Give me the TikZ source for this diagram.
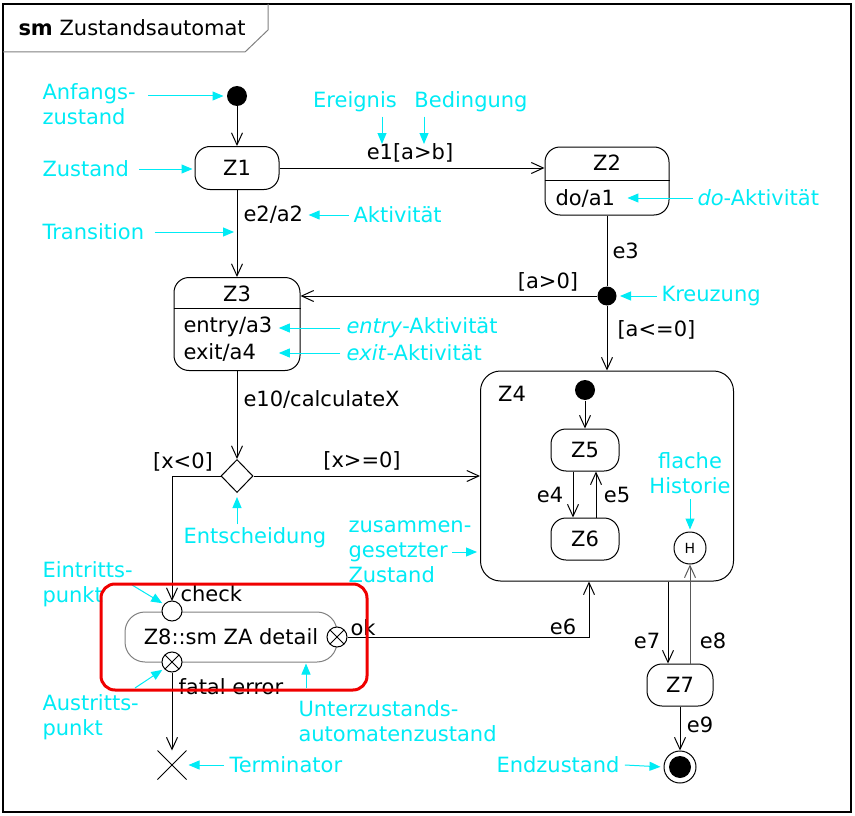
\documentclass[tikz,border=0pt]{standalone}
\usepackage{fontspec}
\setmainfont{DejaVu Sans}
\usetikzlibrary{arrows.meta, shapes.geometric, shapes.misc}

\begin{document}
\begin{tikzpicture}[x=1pt, y=-1pt, line width=1pt,
	every node/.style={font=\fontsize{21}{25}\selectfont},
	state/.style={draw, rounded corners=15pt, inner sep=0pt},
	trans/.style={-{Straight Barb[length=12pt,width=11pt]}},
	note/.style={draw=anncol, -{Triangle[length=11pt,width=9pt]}},
	notetext/.style={text=anncol, inner sep=0pt, align=left, anchor=west},
	lbl/.style={inner sep=0pt},
	expoint/.style={circle, draw, fill=white, minimum size=20pt, inner sep=0pt,
		path picture={\draw (path picture bounding box.north west) -- (path picture bounding box.south east)
			(path picture bounding box.south west) -- (path picture bounding box.north east);}}]
	\definecolor{anncol}{RGB}{0,235,245}
	\definecolor{redbox}{RGB}{240,0,0}
	\useasboundingbox (0,0) rectangle (855,816);
	% frame and title tab
	\draw[line width=1.2pt] (3,4) rectangle (851,812);
	\draw[gray] (3,52) -- (245,52) -- (268,30) -- (268,4);
	\node[anchor=west, inner sep=0pt] (title) at (18,28) {\textbf{sm} Zustandsautomat};
	% states
	\node[circle, fill, minimum size=20pt, inner sep=0pt] (init) at (237,96) {};
	\node[state, minimum width=84pt, minimum height=43pt] (z1) at (237,168) {Z1};
	\node[state, minimum width=124pt, minimum height=68pt] (z2) at (607,181) {};
	\node[lbl] (z2name) at (607,163) {Z2};
	\node[lbl, anchor=west] (z2do) at (555,198) {do/a1};
	\draw (z2.west |- 0,180) -- (z2.east |- 0,180);
	\node[state, minimum width=126pt, minimum height=93pt] (z3) at (237,324) {};
	\node[lbl] (z3name) at (237,294) {Z3};
	\node[lbl, anchor=west] (z3entry) at (183,327) {entry/a3};
	\node[lbl, anchor=west] (z3exit) at (183,352) {exit/a4};
	\draw (z3.west |- 0,308) -- (z3.east |- 0,308);
	\node[circle, fill, minimum size=19pt, inner sep=0pt] (kreuz) at (607,296) {};
	\node[diamond, draw, minimum width=32pt, minimum height=33pt, inner sep=0pt] (dec) at (237,476) {};
	\node[state, rounded corners=20pt, minimum width=253pt, minimum height=210pt] (z4) at (607,476) {};
	\node[lbl] (z4name) at (512,394) {Z4};
	\node[circle, fill, minimum size=20pt, inner sep=0pt] (z4init) at (585,390) {};
	\node[state, minimum width=68pt, minimum height=42pt] (z5) at (585,450) {Z5};
	\node[state, minimum width=68pt, minimum height=42pt] (z6) at (585,539) {Z6};
	\node[circle, draw, minimum size=32pt, inner sep=0pt, font=\fontsize{14}{16}\selectfont] (hist) at (690,548) {H};
	\node[state, minimum width=66pt, minimum height=42pt] (z7) at (680,685) {Z7};
	\node[circle, draw, fill=white, minimum size=32pt, inner sep=0pt,
		path picture={\fill[black] (path picture bounding box.center) circle (11pt);}] (final) at (680,767) {};
	\node[cross out, draw, minimum size=28pt, inner sep=0pt] (term) at (172,765) {};
	% transitions
	\draw[trans] (init) -- (z1);
	\draw[trans] (z1.east) -- (z1.east -| z2.west);
	\draw[trans] (z1) -- (z3);
	\draw (z2) -- (kreuz);
	\draw[trans] (kreuz) -- (kreuz -| z3.east);
	\draw[trans] (kreuz) -- (kreuz |- z4.north);
	\draw[trans] (z3) -- (dec);
	\draw[trans] (dec.east) -- (dec.east -| z4.west);
	\draw[trans] (z4init) -- (z5);
	\draw[trans] ([xshift=-12pt]z5.south) -- ([xshift=-12pt]z6.north);
	\draw[trans] ([xshift=11pt]z6.north) -- ([xshift=11pt]z5.south);
	\draw[trans] ([xshift=-66pt]z4.south east) -- ([xshift=-12pt]z7.north);
	\draw[trans, gray!70!black] ([xshift=10pt]z7.north) -- (hist);
	\draw[trans] (z7) -- (final);
	% submachine state
	\node[draw=gray, rounded corners=20pt, minimum width=212pt, minimum height=50pt, inner sep=0pt] (z8) at (231,637) {Z8::sm ZA detail};
	\draw[trans] (dec.west) -| (172,601);
	\node[circle, draw, fill=white, minimum size=20pt, inner sep=0pt] (entry) at (172,611) {};
	\node[expoint] (errpt) at (172,662) {};
	\node[expoint] (okpt) at (337,637) {};
	\draw[trans] (okpt.east) -| ([xshift=-18pt]z4.south);
	\draw[trans] (errpt) -- (term);
	% transition labels
	\node[lbl] (le1) at (410,153) {e1[a>b]};
	\node[lbl, anchor=west] (le2) at (243,215) {e2/a2};
	\node[lbl, anchor=west] (le3) at (612,251) {e3};
	\node[lbl] (lagt) at (548,282) {[a>0]};
	\node[lbl, anchor=west] (lale) at (617,330) {[a<=0]};
	\node[lbl, anchor=west] (le10) at (243,399) {e10/calculateX};
	\node[lbl] (lxlt) at (183,462) {[x<0]};
	\node[lbl] (lxge) at (362,461) {[x>=0]};
	\node[lbl] (le4) at (550,495) {e4};
	\node[lbl] (le5) at (617,495) {e5};
	\node[lbl] (le6) at (563,627) {e6};
	\node[lbl] (le7) at (647,641) {e7};
	\node[lbl] (le8) at (713,641) {e8};
	\node[lbl] (le9) at (700,725) {e9};
	\node[lbl, anchor=west] (lcheck) at (180,594) {check};
	\node[lbl, anchor=west] (lok) at (350,628) {ok};
	\node[lbl, anchor=west] (lfatal) at (178,687) {fatal error};
	% annotations
	\node[notetext] (lAnf) at (42,104.5) {Anfangs-\\zustand};
	\draw[note, shorten >=3pt] ([xshift=12pt]lAnf.east |- init) -- (init.west);
	\node[notetext] (lZus) at (42,169) {Zustand};
	\draw[note, shorten >=2pt] ([xshift=10pt]lZus.east) -- (lZus.east -| z1.west);
	\node[notetext] (lTrans) at (42,232) {Transition};
	\draw[note, shorten >=3pt] ([xshift=10pt]lTrans.east) -- (lTrans.east -| z1);
	\node[notetext, anchor=center] (lEre) at (355,102) {Ereignis};
	\node[notetext, anchor=center] (lBed) at (471,102) {Bedingung};
	\coordinate (ereTip) at (382,144);
	\coordinate (bedTip) at (424,144);
	\draw[note, shorten <=4pt] (ereTip |- lEre.south) -- (ereTip);
	\draw[note, shorten <=4pt] (bedTip |- lBed.south) -- (bedTip);
	\node[notetext] (lAkt) at (353,215) {Aktivität};
	\draw[note] ([xshift=-4pt]lAkt.west) -- ([xshift=5pt]le2.east);
	\node[notetext] (lDo) at (697,198) {\textit{do}-Aktivität};
	\draw[note] ([xshift=-4pt]lDo.west) -- ([xshift=12pt]z2do.east);
	\node[notetext] (lKreuz) at (661,296) {Kreuzung};
	\draw[note, shorten >=3pt] ([xshift=-4pt]lKreuz.west) -- (kreuz.east);
	\node[notetext] (lEntry) at (346,328) {\textit{entry}-Aktivität};
	\node[notetext] (lExit) at (346,353) {\textit{exit}-Aktivität};
	\coordinate (entTip) at ([xshift=6pt]z3entry.east);
	\draw[note] ([xshift=-6pt]lEntry.west) -- (entTip |- lEntry.west);
	\draw[note] ([xshift=-6pt]lExit.west) -- (entTip |- lExit.west);
	\node[notetext] (lEnt) at (183,538) {Entscheidung};
	\draw[note, shorten <=3pt, shorten >=4pt] (dec |- lEnt.north) -- (dec.south);
	\node[notetext] (lZusam) at (348,552) {zusammen-\\gesetzter\\Zustand};
	\coordinate (zusStart) at (452,552);
	\draw[note, shorten >=3pt] (zusStart) -- (zusStart -| z4.west);
	\node[notetext, anchor=center, align=center] (lFlach) at (690,473) {flache\\Historie};
	\draw[note, shorten <=5pt, shorten >=2pt] (lFlach.south -| hist) -- (hist.north);
	\node[notetext] (lEin) at (42,584.5) {Eintritts-\\punkt};
	\coordinate (einStart) at (132,585);
	\draw[note, shorten >=2pt] (einStart) -- (entry.140);
	\node[notetext] (lAus) at (42,717) {Austritts-\\punkt};
	\coordinate (ausStart) at (135,688);
	\draw[note, shorten >=2pt] (ausStart) -- (errpt.220);
	\node[notetext] (lUnter) at (298,721) {Unterzustands-\\automatenzustand};
	\coordinate (unterStart) at (306,688);
	\draw[note, shorten >=1pt] (unterStart) -- (unterStart |- z8.south);
	\node[notetext] (lTerm) at (229,765) {Terminator};
	\draw[note, shorten >=2pt] ([xshift=-5pt]lTerm.west) -- (term.east);
	\node[notetext] (lEnd) at (496,765) {Endzustand};
	\draw[note, shorten >=3pt] ([xshift=5pt]lEnd.east) -- (final.west);
	% highlight
	\draw[redbox, line width=3pt, rounded corners=14pt] (101,584) rectangle (367,690);
\end{tikzpicture}
\end{document}
